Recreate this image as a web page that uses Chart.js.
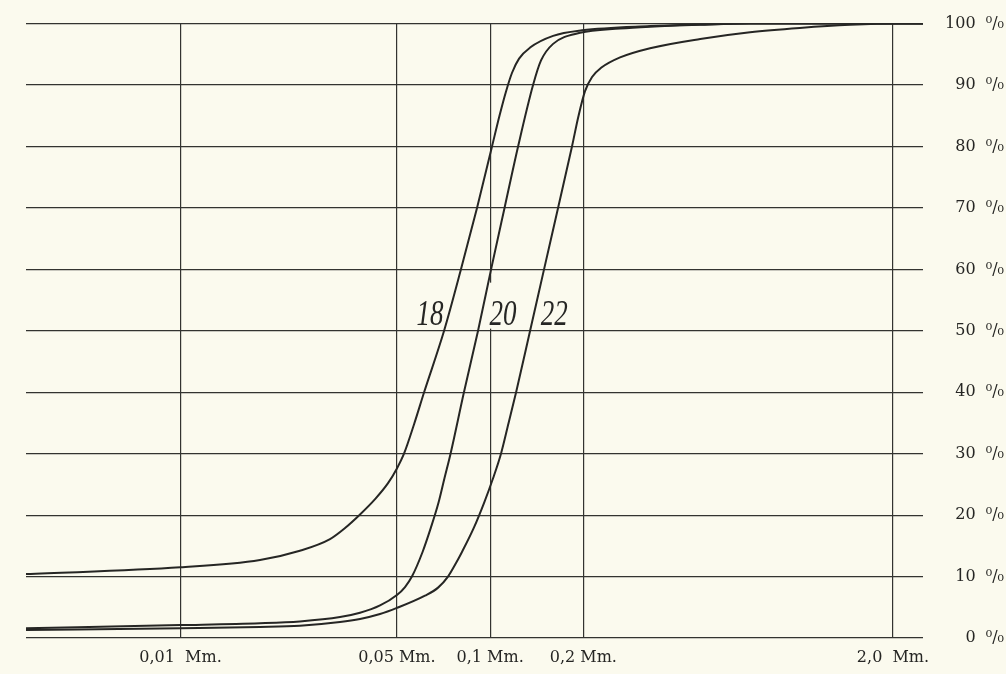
<!DOCTYPE html>
<html>
<head>
<meta charset="utf-8">
<script src="https://cdn.jsdelivr.net/npm/chart.js@4/dist/chart.umd.min.js"></script>
<style>
  html, body { margin: 0; padding: 0; background: #fbfaee; }
  #wrap { width: 1006px; height: 674px; }
</style>
</head>
<body>
<div id="wrap"><canvas id="c" width="1006" height="674"></canvas></div>
<script>
// Grain size (mm) and cumulative percentage
const sizes18 = [0.00317, 0.01, 0.01806, 0.0243, 0.0304, 0.0340, 0.0380, 0.0425, 0.0468, 0.0500, 0.0527, 0.0568, 0.0612, 0.0710, 0.0805, 0.0907, 0.1014, 0.1072, 0.1126, 0.1177, 0.1240, 0.1346, 0.1597, 0.198, 0.3285, 0.477, 0.691, 2.5];
const pct18   = [10.4, 11.5, 12.7, 14.2, 16.1, 17.9, 20.1, 22.6, 25.2, 27.6, 30.0, 34.8, 40, 50, 60, 70, 80, 85, 89, 92, 94.3, 96.1, 98.0, 98.9, 99.6, 99.85, 100, 100];

const sizes20 = [0.00317, 0.01, 0.01806, 0.0243, 0.03275, 0.0380, 0.0441, 0.0500, 0.0531, 0.0559, 0.0605, 0.0644, 0.0681, 0.0712, 0.0745, 0.0823, 0.0914, 0.1007, 0.1113, 0.1231, 0.1376, 0.1460, 0.1597, 0.1952, 0.2628, 0.3285, 0.477, 0.691, 2.5];
const pct20   = [1.6, 2.1, 2.4, 2.7, 3.4, 4.1, 5.3, 7.0, 8.3, 10, 14, 18, 22, 26, 30, 40, 50, 60, 70, 80, 90, 94.0, 96.7, 98.5, 99.2, 99.5, 99.8, 100, 100];

const sizes22 = [0.00317, 0.01, 0.01806, 0.0243, 0.03275, 0.0380, 0.0441, 0.0500, 0.0616, 0.0679, 0.0731, 0.0776, 0.0811, 0.0887, 0.0956, 0.1022, 0.1084, 0.1147, 0.1213, 0.1346, 0.1493, 0.1657, 0.1838, 0.1930, 0.2025, 0.2134, 0.2282, 0.2628, 0.3285, 0.477, 0.691, 1.0, 1.454, 2.109, 2.5];
const pct22   = [1.3, 1.6, 1.8, 2.0, 2.6, 3.1, 3.9, 4.9, 6.9, 8.2, 10, 12.2, 14, 18, 22, 26, 30, 35, 40, 50, 60, 70, 80, 85, 89, 91.3, 92.8, 94.5, 96.0, 97.5, 98.6, 99.3, 99.8, 100, 100];

// Axis ticks
const xTickValues = [0.01, 0.05, 0.1, 0.2, 2.0];
const xTickLabels = ['0,01  Mm.', '0,05 Mm.', '0,1 Mm.', '0,2 Mm.', '2,0  Mm.'];
const yTickValues = [0, 10, 20, 30, 40, 50, 60, 70, 80, 90, 100];

// Curve labels (text and anchor in data units)
const curveNames = ['18', '20', '22'];
const curveLabelSize = [0.064, 0.110, 0.161];
const curveLabelPct = [51, 51, 51];

const BG = '#fbfaee';
const INK = '#262624';
const SERIF = "'DejaVu Serif', 'Liberation Serif', serif";
const ITALIC_SERIF = "'Liberation Serif', 'DejaVu Serif', serif";

function pts(xs, ys) { return xs.map((x, i) => ({ x: x, y: ys[i] })); }

const bgPlugin = {
  id: 'bg',
  beforeDraw(chart) {
    const ctx = chart.ctx;
    ctx.save();
    ctx.fillStyle = BG;
    ctx.fillRect(0, 0, chart.width, chart.height);
    ctx.restore();
  }
};

const curveLabelPlugin = {
  id: 'curveLabels',
  beforeDatasetsDraw(chart) {
    const ctx = chart.ctx;
    const xs = chart.scales.x, ys = chart.scales.y;
    ctx.save();
    ctx.font = 'italic 36px ' + ITALIC_SERIF;
    curveNames.forEach((t, i) => {
      const cx = xs.getPixelForValue(curveLabelSize[i]);
      const by = ys.getPixelForValue(curveLabelPct[i]);
      const w = ctx.measureText(t).width * 0.75;
      ctx.fillStyle = BG;
      ctx.fillRect(cx - w / 2 - 2, by - 42, w + 4, 46);
      ctx.save();
      ctx.translate(cx, by);
      ctx.scale(0.75, 1);
      ctx.fillStyle = INK;
      ctx.textAlign = 'center';
      ctx.textBaseline = 'alphabetic';
      ctx.fillText(t, 0, 0);
      ctx.restore();
    });
    ctx.restore();
  }
};

const lineStyle = {
  borderColor: INK,
  borderWidth: 2,
  pointRadius: 0,
  fill: false,
  cubicInterpolationMode: 'monotone'
};

new Chart(document.getElementById('c'), {
  type: 'line',
  data: {
    datasets: [
      Object.assign({ label: '18', data: pts(sizes18, pct18) }, lineStyle),
      Object.assign({ label: '20', data: pts(sizes20, pct20) }, lineStyle),
      Object.assign({ label: '22', data: pts(sizes22, pct22) }, lineStyle)
    ]
  },
  options: {
    responsive: false,
    animation: false,
    layout: { padding: { left: 26, top: 22, right: 2, bottom: 6 } },
    plugins: { legend: { display: false }, tooltip: { enabled: false }, title: { display: false } },
    scales: {
      x: {
        type: 'logarithmic',
        min: 0.00317,
        max: 2.5,
        border: { display: false },
        grid: { color: '#333330', lineWidth: 1.2, drawTicks: false },
        afterBuildTicks(scale) { scale.ticks = xTickValues.map(v => ({ value: v })); },
        afterFit(scale) { scale.height = 30; },
        ticks: {
          autoSkip: false,
          maxRotation: 0,
          padding: 10,
          color: INK,
          font: { family: SERIF, size: 16 },
          callback(value) {
            const i = xTickValues.indexOf(value);
            return i >= 0 ? xTickLabels[i] : '';
          }
        }
      },
      y: {
        position: 'right',
        min: 0,
        max: 100,
        border: { display: false },
        grid: { color: '#333330', lineWidth: 1.2, drawTicks: false },
        afterBuildTicks(scale) { scale.ticks = yTickValues.map(v => ({ value: v })); },
        afterFit(scale) { scale.width = 81; },
        ticks: {
          padding: 14,
          crossAlign: 'far',
          color: INK,
          font: { family: SERIF, size: 16 },
          callback(value) { return value + '  \u2070/\u2080'; }
        }
      }
    }
  },
  plugins: [bgPlugin, curveLabelPlugin]
});
</script>
</body>
</html>
